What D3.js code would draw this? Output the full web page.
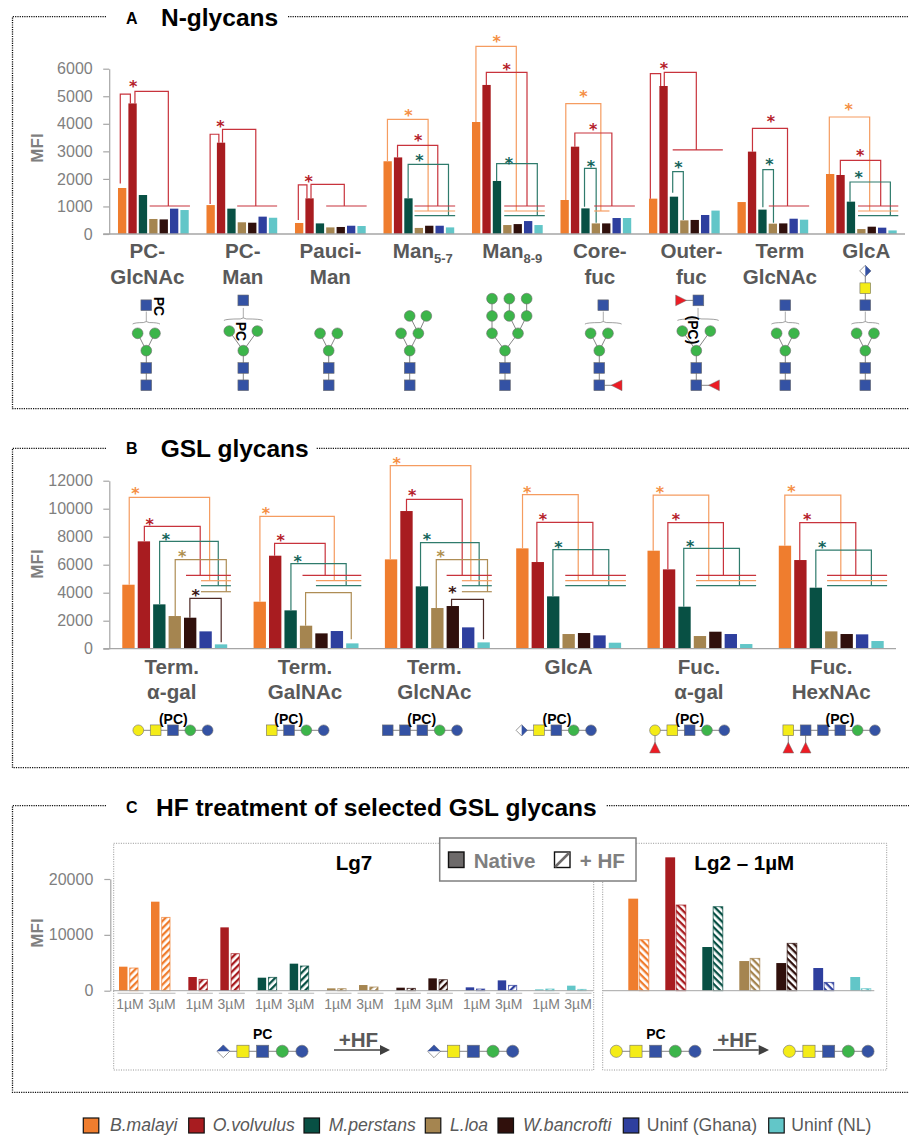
<!DOCTYPE html>
<html>
<head>
<meta charset="utf-8">
<script src="https://d3js.org/d3.v7.min.js"></script>
<style>
  html, body { margin: 0; padding: 0; background: #fff; }
  svg { display: block; }
  text { font-family: "Liberation Sans", Arial, sans-serif; }
</style>
</head>
<body>
<div id="chart"></div>
<script>
// Series
const species = ["B.malayi", "O.volvulus", "M.perstans", "L.loa", "W.bancrofti", "Uninf (Ghana)", "Uninf (NL)"];
const barColors = ["#ef7d2e", "#a81c20", "#085044", "#a58550", "#30100c", "#2e3f9e", "#62c6c8"];
const lineColors = ["#f59c60", "#c8333c", "#2f7b6c", "#ae8d55", "#4e2a26"];
const starColors = ["#f58f45", "#b5202a", "#14645a", "#b0904f", "#3a1512"];

// Panel A: N-glycans
const catsA = ["PC-|GlcNAc", "PC-|Man", "Pauci-|Man", "Man_5-7", "Man_8-9", "Core-|fuc", "Outer-|fuc", "Term|GlcNAc", "GlcA"];
const ticksA = [0, 1000, 2000, 3000, 4000, 5000, 6000];
const valuesA = [
  [1670, 4740, 1415, 545, 530, 920, 870],
  [1050, 3315, 920, 425, 410, 630, 590],
  [400, 1295, 385, 240, 255, 300, 290],
  [2640, 2780, 1295, 220, 300, 300, 240],
  [4065, 5410, 1925, 325, 360, 470, 325],
  [1234, 3170, 930, 385, 385, 580, 580],
  [1283, 5372, 1355, 495, 510, 690, 850],
  [1160, 2990, 885, 375, 385, 555, 520],
  [2178, 2142, 1174, 180, 265, 230, 130],
];
// [group, series, bar-slot left, MFI left end, MFI top, bar-slot right, MFI right end]
const bracketsA = [
  [0, 1, 0.22, 1830, 5080, 1.19, 4740], [0, 1, 1.63, 4740, 5180, 4.84, 1016],
  [1, 1, 0.35, 1090, 3620, 1.19, 3315], [1, 1, 1.54, 3315, 3800, 4.74, 1016],
  [2, 1, 0.32, 510, 1780, 1.15, 1295], [2, 1, 1.54, 1295, 1803, 4.74, 1016],
  [3, 0, 0.38, 2640, 4160, 4.29, 835], [3, 1, 1.35, 2780, 3220, 5.22, 1016], [3, 2, 2.37, 1295, 2530, 6.25, 665],
  [4, 0, 0.38, 4065, 6812, 4.26, 835], [4, 1, 1.38, 5410, 5870, 5.29, 1016], [4, 2, 2.37, 1925, 2553, 6.28, 665],
  [5, 0, 0.51, 1234, 4731, 3.88, 835], [5, 1, 1.38, 3170, 3666, 4.94, 1016], [5, 2, 2.31, 990, 2384, 3.43, 410],
  [6, 1, 0.13, 1283, 5820, 1.12, 5372], [6, 1, 1.47, 5372, 5870, 4.55, 3050], [6, 2, 2.28, 1500, 2263, 3.3, 508],
  [7, 1, 1.44, 2990, 3836, 4.81, 1016], [7, 2, 2.44, 968, 2335, 3.46, 410],
  [8, 0, 0.32, 2178, 4247, 4.2, 835], [8, 1, 1.38, 2142, 2674, 5.26, 1016], [8, 2, 2.31, 1174, 1888, 6.19, 665],
];
// [group, series, slot from, slot to, MFI]
const railsA = [
  [0, 1, 3.04, 6.92, 1016], [1, 1, 2.95, 6.79, 1016], [2, 1, 3, 6.89, 1016],
  [3, 1, 2.98, 6.89, 1016], [3, 0, 2.98, 6.89, 835], [3, 2, 2.98, 6.89, 665],
  [4, 1, 3.1, 7, 1016], [4, 0, 3.1, 7, 835], [4, 2, 3.1, 7, 665],
  [5, 1, 3.24, 7.15, 1016], [5, 0, 3.24, 4.71, 835],
  [6, 1, 2.28, 7.1, 3050], [7, 1, 3.01, 6.89, 1016],
  [8, 1, 3.08, 6.95, 1016], [8, 0, 3.08, 6.95, 835], [8, 2, 3.08, 6.95, 665],
];
// [group, series, slot, MFI]
const starsA = [
  [0, 1, 1.47, 5445], [1, 1, 1.35, 4017], [2, 1, 1.31, 2020],
  [3, 0, 2.4, 4404], [3, 1, 3.33, 3485], [3, 2, 3.46, 2783],
  [4, 0, 2.37, 7100], [4, 1, 3.33, 6074], [4, 2, 3.55, 2686],
  [5, 0, 2.21, 5094], [5, 1, 3.14, 3896], [5, 2, 2.92, 2553],
  [6, 1, 1.44, 6110], [6, 2, 2.82, 2517],
  [7, 1, 3.21, 4175], [7, 2, 3.06, 2614],
  [8, 0, 2.18, 4622], [8, 1, 3.3, 2965], [8, 2, 3.14, 2166],
];

// Panel B: GSL glycans
const catsB = ["Term.|α-gal", "Term.|GalNAc", "Term.|GlcNAc", "GlcA", "Fuc.|α-gal", "Fuc.|HexNAc"];
const ticksB = [0, 2000, 4000, 6000, 8000, 10000, 12000];
const valuesB = [
  [4570, 7667, 3167, 2333, 2214, 1238, 310],
  [3357, 6643, 2738, 1643, 1095, 1262, 381],
  [6381, 9833, 4452, 2905, 3048, 1524, 452],
  [7167, 6190, 3738, 1048, 1119, 952, 429],
  [7000, 5667, 3000, 905, 1214, 1048, 333],
  [7357, 6333, 4357, 1238, 1048, 1024, 548],
];
const bracketsB = [
  [0, 0, 0.45, 4570, 10810, 5.66, 4857], [0, 1, 1.43, 7667, 8738, 5.05, 5238], [0, 2, 2.42, 3167, 7667, 6.22, 4500],
  [0, 3, 3.43, 2333, 6357, 6.74, 4071], [0, 4, 4.38, 2214, 3595, 6.41, 452],
  [1, 0, 0.41, 3357, 9452, 5.23, 4857], [1, 1, 1.36, 6643, 7524, 4.64, 5238], [1, 2, 2.42, 2738, 6071, 6, 4500],
  [1, 3, 3.37, 1643, 4000, 6.33, 667],
  [2, 0, 0.35, 6381, 13070, 5.57, 4857], [2, 1, 1.4, 9833, 10667, 5.01, 5238], [2, 2, 2.31, 4452, 7571, 6.11, 4500],
  [2, 3, 3.33, 2905, 6357, 6.65, 4071], [2, 4, 4.32, 3048, 3524, 6.39, 667],
  [3, 0, 0.41, 7167, 11000, 4.02, 4857], [3, 1, 1.34, 6190, 9024, 4.97, 5238], [3, 2, 2.38, 3738, 7071, 6, 4500],
  [4, 0, 0.37, 7000, 10976, 3.97, 4857], [4, 1, 1.32, 5667, 9000, 4.92, 5238], [4, 2, 2.35, 3000, 7167, 5.96, 4500],
  [5, 0, 0.39, 7357, 10976, 4.02, 4857], [5, 1, 1.36, 6333, 9000, 4.99, 5238], [5, 2, 2.4, 4357, 7048, 6, 4500],
];
const railsB = [
  [0, 1, 4.13, 7.04, 5238], [0, 0, 5.1, 7.04, 4857], [0, 2, 5.1, 7.04, 4500], [0, 3, 5.1, 7.04, 4071],
  [1, 1, 3.17, 6.98, 5238], [1, 0, 4.04, 6.98, 4857], [1, 2, 4.04, 6.98, 4500],
  [2, 1, 4, 6.93, 5238], [2, 0, 4.99, 6.93, 4857], [2, 2, 4.99, 6.93, 4500], [2, 3, 4.99, 6.93, 4071],
  [3, 1, 3.18, 7.11, 5238], [3, 0, 3.18, 7.11, 4857], [3, 2, 3.18, 7.11, 4500],
  [4, 1, 3.15, 7.04, 5238], [4, 0, 3.15, 7.04, 4857], [4, 2, 3.15, 7.04, 4500],
  [5, 1, 3.13, 7.02, 5238], [5, 0, 3.13, 7.02, 4857], [5, 2, 3.13, 7.02, 4500],
];
const starsB = [
  [0, 0, 0.86, 11286], [0, 1, 1.77, 9071], [0, 2, 2.83, 8048], [0, 3, 3.89, 6786], [0, 4, 4.75, 4048],
  [1, 0, 0.8, 9881], [1, 1, 1.75, 7929], [1, 2, 2.85, 6476],
  [2, 0, 0.76, 13476], [2, 1, 1.77, 11143], [2, 2, 2.72, 8000], [2, 3, 3.61, 6786], [2, 4, 4.38, 4262],
  [3, 0, 0.71, 11381], [3, 1, 1.73, 9429], [3, 2, 2.74, 7452],
  [4, 0, 0.8, 11381], [4, 1, 1.84, 9429], [4, 2, 2.76, 7548],
  [5, 0, 0.82, 11429], [5, 1, 1.84, 9452], [5, 2, 2.81, 7476],
];

// Panel C: HF treatment
const ticksC = [0, 10000, 20000];
const concentrations = ["1µM", "3µM"];
const states = ["Native", "HF"];
// species -> concentration -> [native, +HF]
const valuesLg7 = [
  [[4300, 4060], [15940, 13130]],
  [[2450, 2030], [11340, 6630]],
  [[2330, 2390], [4840, 4420]],
  [[420, 360], [1015, 660]],
  [[540, 420], [2210, 1970]],
  [[600, 300], [1850, 955]],
  [[240, 300], [900, 240]],
];
const valuesLg2 = [
  [16480, 9130], [23880, 15340], [7820, 15040], [5310, 5790], [4950, 8480], [4060, 1490], [2450, 360],
];

const width = 909, height = 1137;
const font = '"Liberation Sans", Arial, sans-serif';
const svg = d3.select("#chart").append("svg").attr("width", width).attr("height", height);
const defs = svg.append("defs");

// Hatch patterns for the +HF bars, one per colour and direction
barColors.forEach((c, i) => {
  [["f", -45], ["b", 45]].forEach(([dir, angle]) => {
    const p = defs.append("pattern").attr("id", `hatch-${dir}-${i}`)
      .attr("patternUnits", "userSpaceOnUse").attr("width", 5).attr("height", 5)
      .attr("patternTransform", `rotate(${angle})`);
    p.append("rect").attr("width", 5).attr("height", 5).attr("fill", "#fff");
    p.append("rect").attr("width", 5).attr("height", 2.3).attr("fill", c);
  });
});

// Dotted frame with a gap for the title
function frame(top, bottom, gapEnd) {
  const g = svg.append("g").attr("fill", "none").attr("stroke", "#111")
    .attr("stroke-width", 1.3).attr("stroke-dasharray", "1.2 1.1");
  g.append("path").attr("d", `M106,${top}H12.5V${bottom}H909`);
  g.append("path").attr("d", `M${gapEnd},${top}H909`);
}

function panelTitle(letter, letterY, title, titleX, titleY) {
  svg.append("text").attr("x", 126).attr("y", letterY)
    .attr("font-size", 16).attr("font-weight", "bold").attr("fill", "#000").text(letter);
  svg.append("text").attr("x", titleX).attr("y", titleY)
    .attr("font-size", 24.5).attr("font-weight", "bold").attr("fill", "#000").text(title);
}

function yAxisBlock(y, ticks, axisX, mfiY) {
  const g = svg.append("g").attr("transform", `translate(${axisX},0)`)
    .call(d3.axisLeft(y).tickValues(ticks).tickFormat(d3.format("d")).tickSize(6).tickSizeOuter(0));
  g.select(".domain").attr("stroke", "#a6a6a6").attr("stroke-width", 1.2);
  g.selectAll(".tick line").attr("stroke", "#a6a6a6").attr("stroke-width", 1.2);
  g.selectAll(".tick text").attr("font-family", font).attr("font-size", 16).attr("fill", "#7f7f7f")
    .attr("x", axisX > 110 ? -17 : -16.5);
  svg.append("text").attr("transform", `translate(43,${mfiY}) rotate(-90)`).attr("text-anchor", "middle")
    .attr("font-size", 17).attr("font-weight", "bold").attr("fill", "#7f7f7f").text("MFI");
}

// Category label: "|" splits lines, "_" starts a subscript
function categoryLabels(cats, x0, nudges, base1, base2) {
  cats.forEach((c, i) => {
    const cx = x0(c) + x0.bandwidth() / 2 + nudges[i];
    c.split("|").forEach((line, k) => {
      const t = svg.append("text").attr("x", cx).attr("y", k ? base2 : base1).attr("text-anchor", "middle")
        .attr("font-size", 20.6).attr("font-weight", "bold").attr("fill", "#595959");
      const parts = line.split("_");
      t.append("tspan").text(parts[0]);
      if (parts[1]) t.append("tspan").attr("font-size", 13).attr("dy", 5).text(parts[1]);
    });
  });
}

// Grouped bar panel with significance brackets
function barPanel(opts) {
  const { cats, values, ticks, brackets, rails, stars, xRange, yRange, maxV, slot, axisX, axisEnd, mfiY } = opts;
  const y = d3.scaleLinear().domain([0, maxV]).range(yRange);
  const x0 = d3.scaleBand().domain(cats).range(xRange);
  const pad = (x0.bandwidth() - slot * 6.8) / 2;
  const x1 = d3.scaleBand().domain(d3.range(7)).range([pad, pad + slot * 6.8]).paddingInner(0.2);
  const xSlot = (g, u) => x0(cats[g]) + x1(0) + u * x1.step();

  yAxisBlock(y, ticks, axisX, mfiY);

  svg.append("g").selectAll("g").data(values).join("g")
    .attr("transform", (d, i) => `translate(${x0(cats[i])},0)`)
    .selectAll("rect").data(d => d).join("rect")
    .attr("x", (d, i) => x1(i)).attr("width", x1.bandwidth())
    .attr("y", d => y(d)).attr("height", d => y(0) - y(d))
    .attr("fill", (d, i) => barColors[i]);

  svg.append("line").attr("x1", axisX - 6).attr("x2", axisEnd).attr("y1", y(0)).attr("y2", y(0))
    .attr("stroke", "#a6a6a6").attr("stroke-width", 1.3);

  svg.append("g").attr("fill", "none").attr("stroke-width", 1.2)
    .selectAll("path").data(brackets).join("path")
    .attr("stroke", d => lineColors[d[1]])
    .attr("d", d => `M${xSlot(d[0], d[2])},${y(d[3])}V${y(d[4])}H${xSlot(d[0], d[5])}V${y(d[6])}`);

  svg.append("g").attr("stroke-width", 1.2)
    .selectAll("line").data(rails).join("line")
    .attr("stroke", d => lineColors[d[1]])
    .attr("x1", d => xSlot(d[0], d[2])).attr("x2", d => xSlot(d[0], d[3]))
    .attr("y1", d => y(d[4])).attr("y2", d => y(d[4]));

  // six armed asterisks, DejaVu has the right glyph
  svg.append("g").selectAll("text").data(stars).join("text")
    .attr("x", d => xSlot(d[0], d[2])).attr("y", d => y(d[3]) + 8.5)
    .attr("text-anchor", "middle").style("font-family", '"DejaVu Sans"').attr("font-weight", "bold").attr("font-size", 16)
    .attr("fill", d => starColors[d[1]]).text("*");

  return x0;
}

// Glycan symbols
const sym = { blue: "#3452a4", green: "#3cb54a", yellow: "#f4ec17", red: "#ed1c24" };
function drawNode(g, t, x, y, u) {
  const s = u * 0.31, stroke = "#6f6f6f";
  if (t === "s" || t === "y") {
    g.append("rect").attr("x", x - s).attr("y", y - s).attr("width", 2 * s).attr("height", 2 * s)
      .attr("fill", t === "s" ? sym.blue : sym.yellow).attr("stroke", stroke).attr("stroke-width", 0.6);
  } else if (t === "c" || t === "b" || t === "o") {
    g.append("circle").attr("cx", x).attr("cy", y).attr("r", s)
      .attr("fill", t === "c" ? sym.green : t === "b" ? sym.blue : sym.yellow)
      .attr("stroke", stroke).attr("stroke-width", 0.6);
  } else if (t === "l" || t === "r" || t === "u") {
    const p = t === "l" ? [[-s, 0], [s, -s], [s, s]] : t === "r" ? [[s, 0], [-s, -s], [-s, s]] : [[0, -s], [s, s], [-s, s]];
    g.append("polygon").attr("points", p.map(q => [x + q[0], y + q[1]].join(",")).join(" "))
      .attr("fill", sym.red).attr("stroke", stroke).attr("stroke-width", 0.5);
  } else if (t === "dv" || t === "dh") {
    // half blue diamond; dv = right half blue, dh = top half blue
    const r = s * 1.05;
    g.append("polygon").attr("points", `${x},${y - r} ${x + r},${y} ${x},${y + r} ${x - r},${y}`)
      .attr("fill", "#fff").attr("stroke", "#555").attr("stroke-width", 0.6);
    const half = t === "dv" ? `${x},${y - r} ${x + r},${y} ${x},${y + r}` : `${x - r},${y} ${x},${y - r} ${x + r},${y}`;
    g.append("polygon").attr("points", half).attr("fill", sym.blue);
  }
}
function glycan(cx, baseY, u, nodes, edges, brace) {
  const g = svg.append("g");
  const px = n => [cx + n[1] * u, baseY - n[2] * u];
  g.append("g").attr("stroke", "#666").attr("stroke-width", 0.8).selectAll("line").data(edges).join("line")
    .attr("x1", e => px(nodes[e[0]])[0]).attr("y1", e => px(nodes[e[0]])[1])
    .attr("x2", e => px(nodes[e[1]])[0]).attr("y2", e => px(nodes[e[1]])[1]);
  if (brace) {
    const [lev, half, dx] = brace;
    const bx = cx + dx * u, by = baseY - lev * u, w = half * u;
    g.append("path").attr("fill", "none").attr("stroke", "#777").attr("stroke-width", 0.7)
      .attr("d", `M${bx - w},${by + 1.5}Q${bx - w + 2},${by} ${bx - 3},${by}L${bx},${by - 1}L${bx + 3},${by}Q${bx + w - 2},${by} ${bx + w},${by + 1.5}`);
    g.append("line").attr("x1", bx).attr("x2", bx).attr("y1", by - 1).attr("y2", by - 11)
      .attr("stroke", "#888").attr("stroke-width", 0.7);
  }
  nodes.forEach(n => drawNode(g, n[0], ...px(n), u));
}
function pcText(label, x, y, size, rotate) {
  svg.append("text").attr("transform", `translate(${x},${y})${rotate ? " rotate(90)" : ""}`)
    .attr("text-anchor", "middle").attr("font-size", size).attr("font-weight", "bold").attr("fill", "#000").text(label);
}

// ---------- Panel A ----------
frame(16.7, 408.7, 288);
panelTitle("A", 24, "N-glycans", 161, 25.7);
const x0A = barPanel({
  cats: catsA, values: valuesA, ticks: ticksA, brackets: bracketsA, rails: railsA, stars: starsA,
  xRange: [109.1, 905.6], yRange: [234, 68.7], maxV: 6000, slot: 10.4, axisX: 109.2, axisEnd: 905, mfiY: 148,
});
categoryLabels(catsA, x0A, [-6, 1, 0, 4, 5, 4, 7, 7, 5], 258, 284);

const unitA = 17.33, baseA = 385.3;
const coreN = [["s", 0, 0], ["s", 0, 1], ["c", 0, 2], ["c", -0.5, 3], ["c", 0.5, 3]];
const coreE = [[0, 1], [1, 2], [2, 3], [2, 4]];
const wideN = [["s", 0, 0], ["s", 0, 1], ["c", 0, 2], ["c", -0.81, 3.13], ["c", 0.81, 3.13]];
glycan(146.3, baseA, unitA, [...coreN, ["s", 0, 4.62]], coreE, [3.62, 0.79, 0]);
pcText("PC", 154, 306.5, 14, true);
glycan(243.3, baseA, unitA, [...wideN, ["s", 0, 4.9]], coreE, [3.83, 1.12, 0]);
pcText("PC", 235.5, 331.5, 14, true);
glycan(328.7, baseA, unitA, coreN, coreE);
glycan(409.7, baseA, unitA, [...coreN, ["c", 0, 4], ["c", 0.96, 4]], [...coreE, [4, 5], [4, 6]]);
glycan(505, baseA, unitA,
  [["s", 0, 0], ["s", 0, 1], ["c", 0, 2], ["c", -0.75, 3], ["c", 0.75, 3], ["c", -0.75, 4], ["c", -0.75, 5], ["c", 0.25, 4], ["c", 1.25, 4], ["c", 0.25, 5], ["c", 1.25, 5]],
  [[0, 1], [1, 2], [2, 3], [2, 4], [3, 5], [5, 6], [4, 7], [4, 8], [7, 9], [8, 10]]);
glycan(599.3, baseA, unitA, [...coreN, ["s", 0.23, 4.62], ["l", 1, 0]], [...coreE, [0, 6]], [3.62, 1.06, 0.23]);
glycan(696.3, baseA, unitA, [...wideN, ["s", 0.12, 4.9], ["r", -0.88, 4.9], ["l", 1.02, 0]], [...coreE, [5, 6], [0, 7]], [3.83, 1.19, 0.1]);
pcText("(PC)", 688, 330, 14, true);
glycan(785.3, baseA, unitA, [...coreN, ["s", 0, 4.62]], coreE, [3.62, 0.8, 0]);
glycan(865.3, baseA, unitA, [...coreN, ["s", 0, 4.62], ["y", 0, 5.6], ["dv", 0, 6.6]], [...coreE, [5, 6], [6, 7]], [3.62, 0.8, 0]);

// ---------- Panel B ----------
frame(448.3, 767.7, 316.7);
panelTitle("B", 454, "GSL glycans", 160.7, 457);
const x0B = barPanel({
  cats: catsB, values: valuesB, ticks: ticksB, brackets: bracketsB, rails: railsB, stars: starsB,
  xRange: [109.1, 896.9], yRange: [648.7, 480.7], maxV: 12000, slot: 15.43, axisX: 109.3, axisEnd: 896, mfiY: 564,
});
categoryLabels(catsB, x0B, [-3, -1, -3, 0, -1, 0], 673.7, 699);

// linear chain of residues
function chain(types, x, y, u) {
  const nodes = types.map((t, i) => [t, i, 0]);
  glycan(x, y, u, nodes, d3.range(types.length - 1).map(i => [i, i + 1]));
}
const rowB = 730.3;
chain(["o", "y", "s", "c", "b"], 138.3, rowB, unitA);
chain(["y", "s", "c", "b"], 271.7, rowB, unitA);
chain(["s", "s", "s", "c", "b"], 387.7, rowB, unitA);
chain(["dv", "y", "s", "c", "b"], 521.7, rowB, unitA);
glycan(655, rowB, unitA, [["o", 0, 0], ["y", 1, 0], ["s", 2, 0], ["c", 3, 0], ["b", 4, 0], ["u", 0, -1]],
  [[0, 1], [1, 2], [2, 3], [3, 4], [0, 5]]);
glycan(788.3, rowB, unitA, [["y", 0, 0], ["s", 1, 0], ["s", 2, 0], ["s", 3, 0], ["c", 4, 0], ["b", 5, 0], ["u", 0, -1], ["u", 1, -1]],
  [[0, 1], [1, 2], [2, 3], [3, 4], [4, 5], [0, 6], [1, 7]]);
[173.3, 288.7, 421.7, 557, 689.7, 840].forEach(x => pcText("(PC)", x, 723.5, 14));

// ---------- Panel C ----------
frame(805.7, 1092.3, 606.7);
panelTitle("C", 813.3, "HF treatment of selected GSL glycans", 156, 816);

const yC = d3.scaleLinear().domain([0, 20000]).range([990.7, 879]);
yAxisBlock(yC, ticksC, 110.3, 933);

// Inner boxes
const boxes = svg.append("g").attr("fill", "none").attr("stroke", "#888").attr("stroke-width", 0.9).attr("stroke-dasharray", "1 1.4");
boxes.append("rect").attr("x", 113.7).attr("y", 843.3).attr("width", 480).attr("height", 226.7);
boxes.append("rect").attr("x", 602.7).attr("y", 843.3).attr("width", 284).attr("height", 226.7);

// Lg7: species > concentration > state
const x0C = d3.scaleBand().domain(species).range([110, 595.4]);
const x1C = d3.scaleBand().domain(concentrations).range([9, 73]);
const x2C = d3.scaleBand().domain(states).range([0, 18.8]).paddingInner(0.18);
function stateBar(sel, x, w, value, si, state, dir) {
  const hf = state === "HF";
  sel.append("rect").attr("x", x + (hf ? 0.4 : 0)).attr("width", hf ? w - 0.2 : w)
    .attr("y", yC(value)).attr("height", yC(0) - yC(value))
    .attr("fill", hf ? `url(#hatch-${dir}-${si})` : barColors[si])
    .attr("stroke", hf ? barColors[si] : "none").attr("stroke-width", hf ? 0.9 : 0)
    .attr("stroke-opacity", 0.8);
}
const lg7 = svg.append("g");
species.forEach((sp, si) => {
  concentrations.forEach((c, ci) => {
    const cx = x0C(sp) + x1C(c);
    states.forEach((st, k) => stateBar(lg7, cx + x2C(st), x2C.bandwidth(), valuesLg7[si][ci][k], si, st, "f"));
    lg7.append("line").attr("x1", cx - 1.5).attr("x2", cx + 24.5).attr("y1", 993.3).attr("y2", 993.3)
      .attr("stroke", "#c4c4c4").attr("stroke-width", 1.2);
    lg7.append("text").attr("x", cx + 11).attr("y", 1009).attr("text-anchor", "middle")
      .attr("font-size", 14).attr("fill", "#7f7f7f").text(c);
  });
});
svg.append("line").attr("x1", 113).attr("x2", 593).attr("y1", yC(0)).attr("y2", yC(0)).attr("stroke", "#a6a6a6").attr("stroke-width", 1);

// Lg2
const x0D = d3.scaleBand().domain(species).range([619.8, 878.8]);
const x2D = d3.scaleBand().domain(states).range([0, 20.3]).paddingInner(0.06);
const lg2 = svg.append("g");
species.forEach((sp, si) => {
  states.forEach((st, k) => stateBar(lg2, x0D(sp) + 8.5 + x2D(st), x2D.bandwidth(), valuesLg2[si][k], si, st, "b"));
});
svg.append("line").attr("x1", 602.7).attr("x2", 874.3).attr("y1", yC(0)).attr("y2", yC(0)).attr("stroke", "#a6a6a6").attr("stroke-width", 1);

// Titles in the boxes
svg.append("text").attr("x", 335.7).attr("y", 870).attr("font-size", 20.6).attr("font-weight", "bold").attr("fill", "#000").text("Lg7");
svg.append("text").attr("x", 694.3).attr("y", 870).attr("font-size", 20.6).attr("font-weight", "bold").attr("fill", "#000").text("Lg2 – 1µM");

// Native / +HF key
const key = svg.append("g");
key.append("rect").attr("x", 439.7).attr("y", 838).attr("width", 196.3).attr("height", 43)
  .attr("fill", "#fff").attr("stroke", "#7f7f7f").attr("stroke-width", 1.5);
key.append("rect").attr("x", 448.5).attr("y", 852).attr("width", 15.5).attr("height", 15.5)
  .attr("fill", "#6d6a6a").attr("stroke", "#111").attr("stroke-width", 1.4);
key.append("text").attr("x", 473.7).attr("y", 867.7).attr("font-size", 20.6).attr("font-weight", "bold").attr("fill", "#7f7f7f").text("Native");
key.append("rect").attr("x", 554.5).attr("y", 852).attr("width", 15.5).attr("height", 15.5)
  .attr("fill", "#fff").attr("stroke", "#111").attr("stroke-width", 1.4);
key.append("line").attr("x1", 555).attr("y1", 867).attr("x2", 569.5).attr("y2", 852.5).attr("stroke", "#6d6a6a").attr("stroke-width", 2.5);
key.append("text").attr("x", 579.7).attr("y", 867.7).attr("font-size", 20.6).attr("font-weight", "bold").attr("fill", "#7f7f7f").text("+ HF");

// Reaction row
const unitC = 19.67, rowC = 1051.3;
chain(["dh", "y", "s", "c", "b"], 223.3, rowC, unitC);
chain(["dh", "y", "s", "c", "b"], 434, rowC, unitC);
chain(["o", "y", "s", "c", "b"], 616.3, rowC, unitC);
chain(["o", "y", "s", "c", "b"], 789.3, rowC, unitC);
[262.7, 656].forEach(x => pcText("PC", x, 1039, 14));
[[338.7, 334, 380, 390], [717.3, 713, 758.7, 769]].forEach(([tx, x1, x2, tip]) => {
  svg.append("text").attr("x", tx).attr("y", 1046.7).attr("font-size", 20.6).attr("font-weight", "bold").attr("fill", "#595959").text("+HF");
  svg.append("line").attr("x1", x1).attr("x2", x2).attr("y1", 1050).attr("y2", 1050).attr("stroke", "#404040").attr("stroke-width", 1.4);
  svg.append("polygon").attr("points", `${x2},1045 ${tip},1050 ${x2},1055`).attr("fill", "#404040");
});

// Bottom legend
[[83.3, 110], [188.7, 212.7], [304, 328.7], [425.3, 450], [498, 523], [623.3, 646.7], [768.7, 791.3]].forEach(([sx, tx], i) => {
  svg.append("rect").attr("x", sx).attr("y", 1118).attr("width", 15.5).attr("height", 15)
    .attr("fill", barColors[i]).attr("stroke", "#111").attr("stroke-width", 1.2);
  svg.append("text").attr("x", tx).attr("y", 1131).attr("font-size", 17.6)
    .attr("font-style", i < 5 ? "italic" : "normal").attr("fill", "#595959").text(species[i]);
});
</script>
</body>
</html>
